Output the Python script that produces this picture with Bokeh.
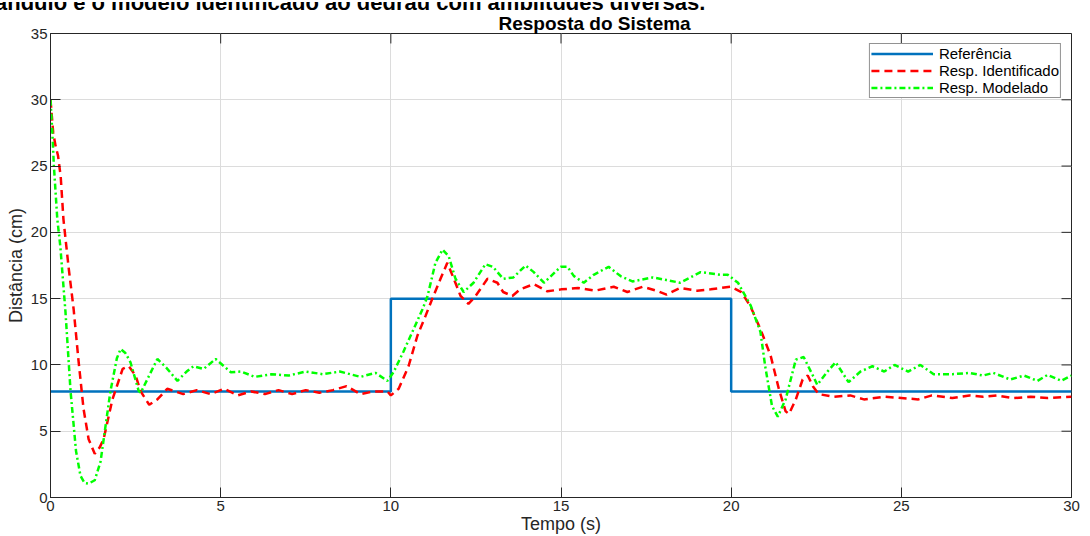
from bokeh.plotting import figure
from bokeh.models import Legend, LegendItem, FixedTicker, Range1d, Div
from bokeh.layouts import column
from bokeh.embed import file_html
from bokeh.resources import INLINE

# ---- data ----
ref_t = [0, 10, 10, 20, 20, 30]
ref_y = [8, 8, 15, 15, 8, 8]

ident_t = [0, 0.08, 0.15, 0.22, 0.3, 0.38, 0.53, 0.68, 0.82, 0.97, 1.12, 1.3, 1.45, 1.56,
           1.82, 2.12, 2.3, 2.5, 2.65, 2.9, 3.14, 3.43, 3.9, 4.3, 4.7, 5.1, 5.5, 5.9, 6.3,
           6.7, 7.1, 7.5, 7.9, 8.3, 8.7, 9.1, 9.5, 9.9, 10.0, 10.23, 10.52, 10.78, 11.02,
           11.22, 11.46, 11.66, 11.85, 12.05, 12.28, 12.49, 12.84, 13.13, 13.3, 13.57, 13.8,
           14.2, 14.6, 15.0, 15.5, 16.0, 16.55, 16.95, 17.4, 17.8, 18.1, 18.5, 19.0, 19.4,
           19.98, 20.3, 20.57, 20.86, 21.16, 21.4, 21.6, 21.7, 21.9, 22.1, 22.25, 22.4, 22.57,
           23.0, 23.5, 23.9, 24.5, 25.0, 25.5, 25.9, 26.5, 27.0, 27.4, 27.8, 28.3, 28.8, 29.3, 30]
ident_y = [30, 27.5, 26.5, 25.8, 24.2, 21, 17.4, 14.2, 10.4, 6.7, 4.4, 3.3, 3.8, 4.4,
           7.4, 9.7, 9.9, 9.2, 8.0, 7.0, 7.4, 8.2, 7.8, 8.1, 7.8, 8.2, 7.7, 8.0, 7.8,
           8.1, 7.8, 8.1, 7.9, 8.1, 8.4, 7.8, 8.0, 8.0, 7.7, 8.2, 9.9, 12.2, 13.7,
           15.0, 16.5, 17.7, 16.5, 15.2, 14.6, 15.2, 16.5, 16.2, 15.5, 15.2, 15.7,
           16.1, 15.55, 15.7, 15.8, 15.6, 15.9, 15.5, 15.9, 15.6, 15.3, 15.8, 15.6, 15.7,
           15.9, 15.5, 14.4, 12.7, 10.7, 8.2, 6.5, 6.3, 7.4, 8.9, 9.2, 8.4, 7.8,
           7.6, 7.7, 7.4, 7.6, 7.5, 7.4, 7.7, 7.5, 7.7, 7.6, 7.7, 7.5, 7.6, 7.5, 7.6]

model_t = [0, 0.05, 0.1, 0.2, 0.29, 0.44, 0.59, 0.75, 0.88, 1.0, 1.12, 1.3, 1.47, 1.76,
           1.95, 2.06, 2.2, 2.35, 2.59, 2.65, 2.9, 3.14, 3.4, 3.73, 4.0, 4.2, 4.5, 4.85,
           5.3, 5.6, 6.0, 6.5, 7.0, 7.5, 8.0, 8.5, 9.11, 9.55, 9.9, 10.08, 10.37, 10.67,
           10.93, 11.08, 11.31, 11.52, 11.7, 11.9, 12.14, 12.43, 12.78, 13.0, 13.3, 13.6,
           13.96, 14.2, 14.5, 14.99, 15.19, 15.38, 15.67, 15.96, 16.4, 16.75, 17.1, 17.7,
           18.1, 18.5, 19.1, 19.7, 19.9, 20.2, 20.57, 20.86, 21.0, 21.2, 21.37, 21.6, 21.9,
           22.13, 22.4, 22.53, 22.83, 23.07, 23.45, 23.8, 24.15, 24.5, 24.8, 25.2, 25.56,
           25.95, 26.5, 27.0, 27.4, 27.7, 28.2, 28.6, 29.0, 29.3, 29.7, 30]
model_y = [30, 27.7, 25, 21, 18.9, 14, 8, 3.5, 1.65, 1.1, 1.05, 1.3, 2.7, 8,
           10.5, 11.2, 10.9, 10.2, 8.05, 7.9, 9.2, 10.45, 9.8, 8.8, 9.5, 9.9, 9.7, 10.45,
           9.45, 9.5, 9.1, 9.3, 9.2, 9.5, 9.3, 9.5, 9.1, 9.4, 8.8, 9.45, 11, 12.7,
           14.2, 15.2, 17.7, 18.7, 18.2, 16.5, 15.5, 16.2, 17.6, 17.4, 16.5, 16.6,
           17.5, 17.0, 16.2, 17.4, 17.4, 16.7, 16.2, 16.8, 17.4, 16.7, 16.3, 16.6,
           16.4, 16.2, 17.0, 16.8, 16.8, 16.2, 14.5, 12.5, 9.9, 6.9, 6.1, 7.4, 10.4,
           10.6, 9.2, 8.5, 9.5, 10.2, 8.7, 9.5, 9.9, 9.5, 10, 9.5, 10,
           9.3, 9.3, 9.4, 9.2, 9.4, 8.9, 9.2, 8.8, 9.25, 8.8, 9.2]

x_ticks = [0, 5, 10, 15, 20, 25, 30]
y_ticks = [0, 5, 10, 15, 20, 25, 30, 35]

title_text = "Resposta do Sistema"
caption_text = "ângulo e o modelo identificado ao degrau com amplitudes diversas."
x_label = "Tempo (s)"
y_label = "Distância (cm)"
series_names = ["Referência", "Resp. Identificado", "Resp. Modelado"]

FONT = "Liberation Sans"
TXT = "#262626"
HEAD_H = 10

X0, X1 = x_ticks[0], x_ticks[-1]
Y0, Y1 = y_ticks[0], y_ticks[-1]

p = figure(width=1090, height=536 - HEAD_H, output_backend="svg", toolbar_location=None,
           x_range=Range1d(X0, X1), y_range=Range1d(Y0, Y1), title=title_text,
           min_border_left=50, min_border_right=19, min_border_top=33 - HEAD_H, min_border_bottom=37)
p.background_fill_color = "white"
p.border_fill_color = "white"
p.outline_line_color = TXT
p.outline_line_width = 1

p.title.align = "left"
p.title.offset = 448
p.title.standoff = 0
p.title.text_font = FONT
p.title.text_font_size = "19px"
p.title.text_font_style = "bold"
p.title.text_color = "black"

for ax in (p.xaxis[0], p.yaxis[0]):
    ax.major_tick_in = 10
    ax.major_tick_out = 0
    ax.minor_tick_line_color = None
    ax.axis_line_color = TXT
    ax.major_tick_line_color = TXT
    ax.major_label_text_font = FONT
    ax.major_label_text_font_size = "15px"
    ax.major_label_text_color = TXT
    ax.major_label_standoff = 3
    ax.axis_label_text_font = FONT
    ax.axis_label_text_font_size = "18px"
    ax.axis_label_text_font_style = "normal"
    ax.axis_label_text_color = TXT
p.xaxis[0].ticker = FixedTicker(ticks=x_ticks)
p.yaxis[0].ticker = FixedTicker(ticks=y_ticks)
p.xaxis[0].axis_label = x_label
p.yaxis[0].axis_label = y_label
p.xaxis[0].axis_label_standoff = 0
p.yaxis[0].axis_label_standoff = 2

p.xgrid.ticker = FixedTicker(ticks=x_ticks)
p.ygrid.ticker = FixedTicker(ticks=y_ticks)
p.grid.grid_line_color = "#DCDCDC"
p.grid.grid_line_width = 1

# inward ticks on the top and right edges (10 px long)
tick_dx = 10 * (X1 - X0) / 1021.0
tick_dy = 10 * (Y1 - Y0) / 466.0
p.segment(x0=x_ticks, y0=[Y1] * len(x_ticks), x1=x_ticks, y1=[Y1 - tick_dy] * len(x_ticks),
          line_color=TXT, line_width=1)
p.segment(x0=[X1] * len(y_ticks), y0=y_ticks, x1=[X1 - tick_dx] * len(y_ticks), y1=y_ticks,
          line_color=TXT, line_width=1)

r_ref = p.line(ref_t, ref_y, line_color="#0072BD", line_width=2.5)
r_id = p.line(ident_t, ident_y, line_color="#FF0000", line_width=2.5, line_dash="8 5")
r_mod = p.line(model_t, model_y, line_color="#00FF00", line_width=2.5, line_dash="6 3 2 3")

legend = Legend(items=[LegendItem(label=series_names[0], renderers=[r_ref]),
                       LegendItem(label=series_names[1], renderers=[r_id]),
                       LegendItem(label=series_names[2], renderers=[r_mod])],
                location="top_right", margin=10, padding=1, spacing=0,
                glyph_width=62, glyph_height=15, label_height=15, label_standoff=6,
                label_text_font=FONT, label_text_font_size="15px", label_text_line_height=1.0,
                label_text_color="black",
                border_line_color=TXT, border_line_width=1, background_fill_color="white",
                background_fill_alpha=1.0)
p.add_layout(legend)

head_html = (
    f'<div style="position:relative;width:1090px;height:{HEAD_H}px;overflow:hidden;margin:0;padding:0;">'
    f'<span style="position:absolute;left:-5px;top:-10px;font-family:\'{FONT}\';font-weight:bold;'
    f'font-size:22px;line-height:22px;white-space:nowrap;color:black;">{caption_text}</span>'
    f'</div>'
)
head = Div(text=head_html, width=1090, height=HEAD_H, styles={"overflow": "hidden", "margin": "0", "padding": "0"})

layout = column(head, p, spacing=0)
open("out.html", "w").write(file_html(layout, INLINE))
